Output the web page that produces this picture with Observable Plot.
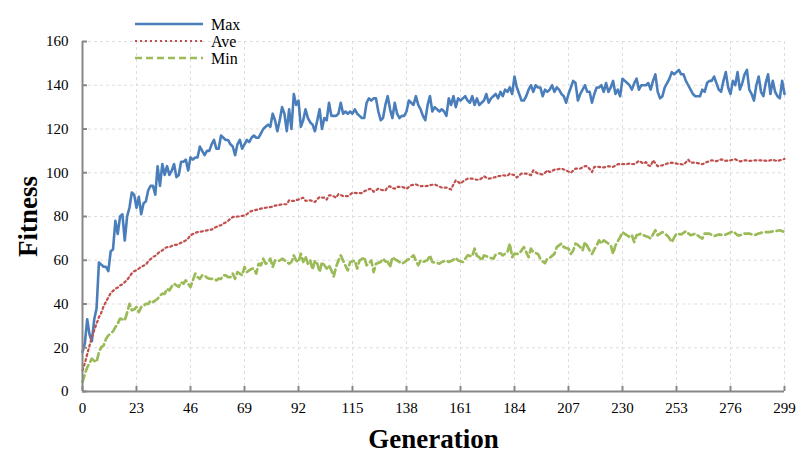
<!DOCTYPE html>
<html>
<head>
<meta charset="utf-8">
<script src="https://cdn.jsdelivr.net/npm/d3@7"></script>
<script src="https://cdn.jsdelivr.net/npm/@observablehq/plot@0.6"></script>
<style>
  html, body { margin: 0; padding: 0; background: #fff; }
  #chart { width: 797px; height: 454px; }
</style>
</head>
<body>
<div id="chart"></div>
<script>
// Best, average and worst fitness of the population in each generation (0–299).
const maxFitness = [
  18, 22, 33, 26, 23, 33, 38, 59, 58, 57,
  57, 55, 64, 65, 78, 72, 80, 81, 69, 80,
  84, 91, 90, 84, 89, 81, 86, 87, 92, 94,
  94, 90, 103, 94, 104, 99, 103, 99, 101, 104,
  98, 99, 105, 105, 106, 101, 107, 106, 107, 107,
  112, 110, 108, 110, 110, 113, 115, 111, 111, 117,
  116, 115, 115, 113, 112, 108, 113, 115, 111, 113,
  115, 114, 116, 117, 116, 116, 118, 120, 121, 122,
  121, 127, 124, 119, 124, 130, 127, 119, 129, 120,
  136, 131, 133, 121, 124, 129, 125, 123, 122, 119,
  124, 129, 120, 125, 124, 132, 126, 126, 126, 127,
  132, 127, 128, 127, 128, 127, 129, 127, 126, 125,
  125, 132, 134, 133, 134, 134, 128, 124, 125, 131,
  135, 129, 125, 132, 127, 125, 126, 126, 128, 133,
  132, 131, 135, 131, 129, 126, 124, 131, 135, 128,
  130, 129, 128, 129, 128, 126, 134, 131, 135, 130,
  134, 133, 134, 135, 133, 132, 135, 131, 134, 131,
  132, 133, 136, 132, 134, 135, 136, 134, 137, 135,
  138, 137, 139, 136, 144, 139, 136, 133, 133, 135,
  138, 140, 137, 140, 139, 139, 135, 138, 137, 138,
  140, 137, 139, 138, 136, 135, 132, 136, 139, 142,
  141, 133, 136, 138, 140, 137, 137, 132, 136, 139,
  139, 140, 137, 141, 137, 139, 142, 136, 138, 135,
  143, 142, 141, 140, 138, 141, 143, 138, 140, 140,
  140, 141, 138, 142, 145, 137, 134, 135, 139, 141,
  143, 146, 145, 146, 147, 145, 145, 142, 140, 138,
  136, 135, 135, 135, 138, 137, 141, 142, 142, 144,
  141, 138, 137, 142, 146, 139, 136, 142, 140, 146,
  138, 141, 145, 147, 138, 136, 133, 140, 144, 137,
  135, 141, 145, 136, 142, 137, 135, 134, 142, 136
];

const aveFitness = [
  9.6, 13, 17, 21, 25, 28, 31, 34, 36, 39,
  41, 43, 45, 46, 47, 47.5, 48.5, 49, 50, 51,
  52.5, 54, 55, 55.5, 56.2, 57, 57.5, 58, 59.5, 60.5,
  61.5, 62, 63, 64, 64.5, 65.5, 66, 66, 66.5, 67,
  67, 67.5, 68, 68.5, 69.1, 70, 71.4, 72, 72.5, 72.9,
  73, 73.2, 73.5, 73.6, 74, 74, 74.8, 75.2, 75.8, 76,
  76.8, 77.3, 78, 79, 79.8, 79.8, 80, 80, 80.3, 80.5,
  81, 82, 82.5, 82.8, 83, 83.4, 83.6, 83.8, 84, 84.2,
  84.3, 84.5, 85, 85.1, 85.3, 85.6, 85.6, 85.6, 87.4, 87.2,
  87.1, 87.5, 87.7, 88.2, 88.6, 87.1, 87.3, 87.4, 87, 86.6,
  88, 88.9, 88.6, 88.6, 87.7, 89.7, 89.7, 89.2, 88.6, 90.2,
  89.8, 89.3, 89.3, 89.3, 90, 90.9, 90.8, 90.7, 90.7, 90.7,
  91.5, 92, 92.5, 92.7, 91.3, 92, 92.7, 92.3, 92, 91.8,
  93.5, 93.8, 93, 92.7, 93.5, 93.5, 93.5, 93.2, 92.7, 93.5,
  94.3, 94.5, 94.7, 94.2, 93.9, 93.9, 93.9, 94, 94.3, 94.5,
  94.7, 94.2, 93.7, 93.2, 93.2, 93.2, 92.8, 92.3, 94.7, 96.6,
  95.8, 95, 96, 96.6, 97.3, 97.3, 97.3, 97, 96.8, 96.8,
  97.5, 98.4, 97.8, 97.3, 97.5, 97.8, 98, 98.4, 98.6, 98.9,
  98.7, 98.6, 99.6, 99.2, 98.9, 97.8, 98.8, 99.6, 99.6, 99.6,
  99.3, 98.9, 101.1, 100.3, 99.6, 99.4, 99.2, 100, 101.1, 100.3,
  100.8, 101.4, 101.5, 101.7, 101.9, 101.5, 101.1, 100.5, 100, 101,
  101.9, 101.9, 101.9, 102.5, 103, 103, 101.7, 100.3, 102.7, 102.7,
  102.7, 102.5, 102.4, 102.7, 103, 102.8, 102.7, 103.3, 103.9, 103.9,
  103.9, 103.9, 104, 104.2, 104, 103.9, 104.6, 105.4, 104.8, 104.2,
  104.9, 103.4, 103, 105.7, 104.3, 103, 103.2, 103.4, 103.8, 104.2,
  104.4, 104.6, 104.4, 104.2, 104, 103.9, 103.7, 104.8, 106, 104.6,
  104.6, 104.6, 104.4, 104.2, 103.9, 104.4, 104.9, 105.3, 105.7, 105.5,
  105.3, 105.7, 106.1, 105.8, 105.4, 105.6, 105.7, 106, 106.2, 105.7,
  105.2, 105.4, 105.7, 105.6, 105.4, 105.5, 105.7, 105.7, 105.7, 105.7,
  105.6, 105.5, 105.4, 105.7, 106, 105.6, 105.3, 105.7, 106, 106.3
];

const minFitness = [
  4.3, 8, 11, 13, 15, 14, 13.5, 18, 20.3, 21,
  24, 25.6, 26.4, 27.5, 29.4, 31, 33.3, 33, 32.5, 36,
  40.1, 37.1, 37.5, 38.6, 36.3, 38.6, 39, 40.1, 40, 41.6,
  40.9, 41.6, 42.4, 43.9, 44.7, 44.6, 47, 46.2, 48, 49.3,
  48.5, 47.8, 50, 49.3, 50.8, 49.3, 47.7, 50.8, 53.9, 52.3,
  51.5, 53.1, 53.1, 52, 51.6, 51.5, 51.5, 50.8, 51.6, 51.5,
  53.1, 53.1, 52.3, 52.3, 53.9, 51.5, 54.6, 53.9, 53.1, 56.9,
  54.6, 55.4, 56.1, 56.2, 53.9, 58.4, 57.7, 60.7, 58.4, 59,
  60.7, 56.9, 59.9, 59.5, 59.9, 60.7, 60, 59.2, 58.4, 59.2,
  62.2, 59.9, 59.2, 63, 59.2, 61.8, 58.4, 59.9, 55.7, 59.9,
  58.4, 54.6, 59.2, 57.7, 56.2, 57.7, 55.5, 52.6, 56.9, 59.9,
  62.2, 59.9, 57.5, 55.4, 59.2, 59.5, 59.9, 56.2, 59.9, 60.5,
  61.4, 57.7, 58.5, 59.9, 54.6, 58.4, 58.8, 59.2, 60.7, 59.5,
  59.2, 56.9, 61.4, 60.5, 59.9, 59.2, 58.4, 59, 59.9, 60.5,
  61.4, 62.2, 59.9, 57.7, 59.9, 59.2, 59.6, 60.2, 62.2, 59.2,
  59, 58.8, 58.4, 59.2, 59.6, 59.9, 59.2, 59.7, 60.2, 61.1,
  59.9, 59.5, 59.2, 60.7, 62.2, 62, 61.8, 65.3, 62, 61.4,
  59.9, 62.2, 61.8, 61.4, 61, 60.7, 62.6, 63, 63.2, 62.2,
  63, 63.7, 67.6, 61.4, 62.9, 62.9, 62.9, 64.5, 66, 63.7,
  61.4, 65.3, 63.7, 63.3, 62.9, 60.7, 59.5, 58.7, 60.7, 61.1,
  62, 62.9, 66, 66.8, 67.6, 66, 65.6, 65.3, 62.9, 64.5,
  67.6, 67, 66, 64.5, 68.3, 66.4, 64.5, 62.9, 65, 66.8,
  69.1, 67.6, 69.1, 68.4, 67.6, 66.8, 62.9, 66.8, 68.7, 70.6,
  72.9, 72, 71.4, 70.6, 71.4, 68.3, 71.4, 71.8, 72.2, 71.4,
  71, 70.6, 69.9, 71.8, 73.7, 71.4, 72.2, 72.9, 72, 71.4,
  70, 68.3, 70.3, 72.2, 72, 71.8, 72.5, 73.3, 72.3, 71.4,
  71.8, 72.2, 71.4, 70.6, 69.9, 72.2, 72.2, 72.2, 71.6, 71,
  71.4, 71.8, 71.6, 71.4, 71.8, 72.2, 72.7, 73.3, 72.4, 71.4,
  71.4, 71.8, 72.2, 72.2, 72.2, 71.8, 71.4, 71.8, 72.2, 72.5,
  72.9, 72.9, 72.9, 73, 73.2, 73.3, 73.5, 73.7, 73.3, 72.9
];

const xTicks = [0, 23, 46, 69, 92, 115, 138, 161, 184, 207, 230, 253, 276, 299];
const yTicks = [0, 20, 40, 60, 80, 100, 120, 140, 160];

const seriesNames = ["Max", "Ave", "Min"];
const seriesColors = ["#4a7ebb", "#c0504d", "#9bbb59"];

const AXIS_GRAY = "#878787";
const GRID_GRAY = "#dedede";
const serif = "'Liberation Serif', 'Times New Roman', Times, serif";

const lineStyles = [
  {stroke: seriesColors[0], strokeWidth: 2.6},
  {stroke: seriesColors[1], strokeWidth: 2.2, strokeDasharray: "2,3"},
  {stroke: seriesColors[2], strokeWidth: 2.7, strokeDasharray: "7,4"}
];
const seriesValues = [maxFitness, aveFitness, minFitness];

const chart = Plot.plot({
  width: 797,
  height: 454,
  marginLeft: 82,
  marginRight: 13,
  marginTop: 41,
  marginBottom: 63,
  style: {fontFamily: serif, fontSize: "15px", color: "#000", background: "#fff"},
  x: {domain: [0, 299]},
  y: {domain: [0, 160]},
  marks: [
    // dashed grid
    Plot.gridX(xTicks, {stroke: GRID_GRAY, strokeOpacity: 1, strokeDasharray: "3,3"}),
    Plot.gridY(yTicks, {stroke: GRID_GRAY, strokeOpacity: 1, strokeDasharray: "3,3"}),
    // series
    ...seriesValues.map((values, k) =>
      Plot.lineY(values, {x: (d, i) => i, y: d => d, ...lineStyles[k]})
    ),
    // axis lines
    Plot.ruleY([0], {stroke: AXIS_GRAY, strokeWidth: 2}),
    Plot.ruleX([0], {stroke: AXIS_GRAY, strokeWidth: 2}),
    // ticks pointing into the frame, labels outside
    Plot.axisX(xTicks, {tickSize: -5, tickPadding: 16, stroke: AXIS_GRAY, strokeWidth: 2, label: null, fill: "#000"}),
    Plot.axisY(yTicks, {tickSize: -5, tickPadding: 19, stroke: AXIS_GRAY, strokeWidth: 2, label: null, fill: "#000"}),
    // axis titles
    Plot.text(["Generation"], {frameAnchor: "bottom", textAnchor: "middle", dy: 56, fontSize: 27, fontWeight: "bold", fontFamily: serif, fill: "#000"}),
    Plot.text(["Fitness"], {frameAnchor: "left", textAnchor: "middle", dx: -54, rotate: -90, fontSize: 27, fontWeight: "bold", fontFamily: serif, fill: "#000"})
  ]
});

// Legend: line samples with series names, top of the chart
const svg = d3.select(chart);
const legend = svg.append("g")
  .attr("font-family", serif)
  .attr("font-size", 16)
  .attr("text-anchor", "start");
seriesNames.forEach((name, k) => {
  const y = 24 + k * 17;
  const st = lineStyles[k];
  legend.append("line")
    .attr("x1", 135).attr("x2", 203).attr("y1", y).attr("y2", y)
    .attr("stroke", st.stroke).attr("stroke-width", st.strokeWidth)
    .attr("stroke-dasharray", st.strokeDasharray || null);
  legend.append("text")
    .attr("x", 211).attr("y", y).attr("dy", "0.35em")
    .attr("fill", "#000").text(name);
});

document.getElementById("chart").appendChild(chart);
</script>
</body>
</html>
